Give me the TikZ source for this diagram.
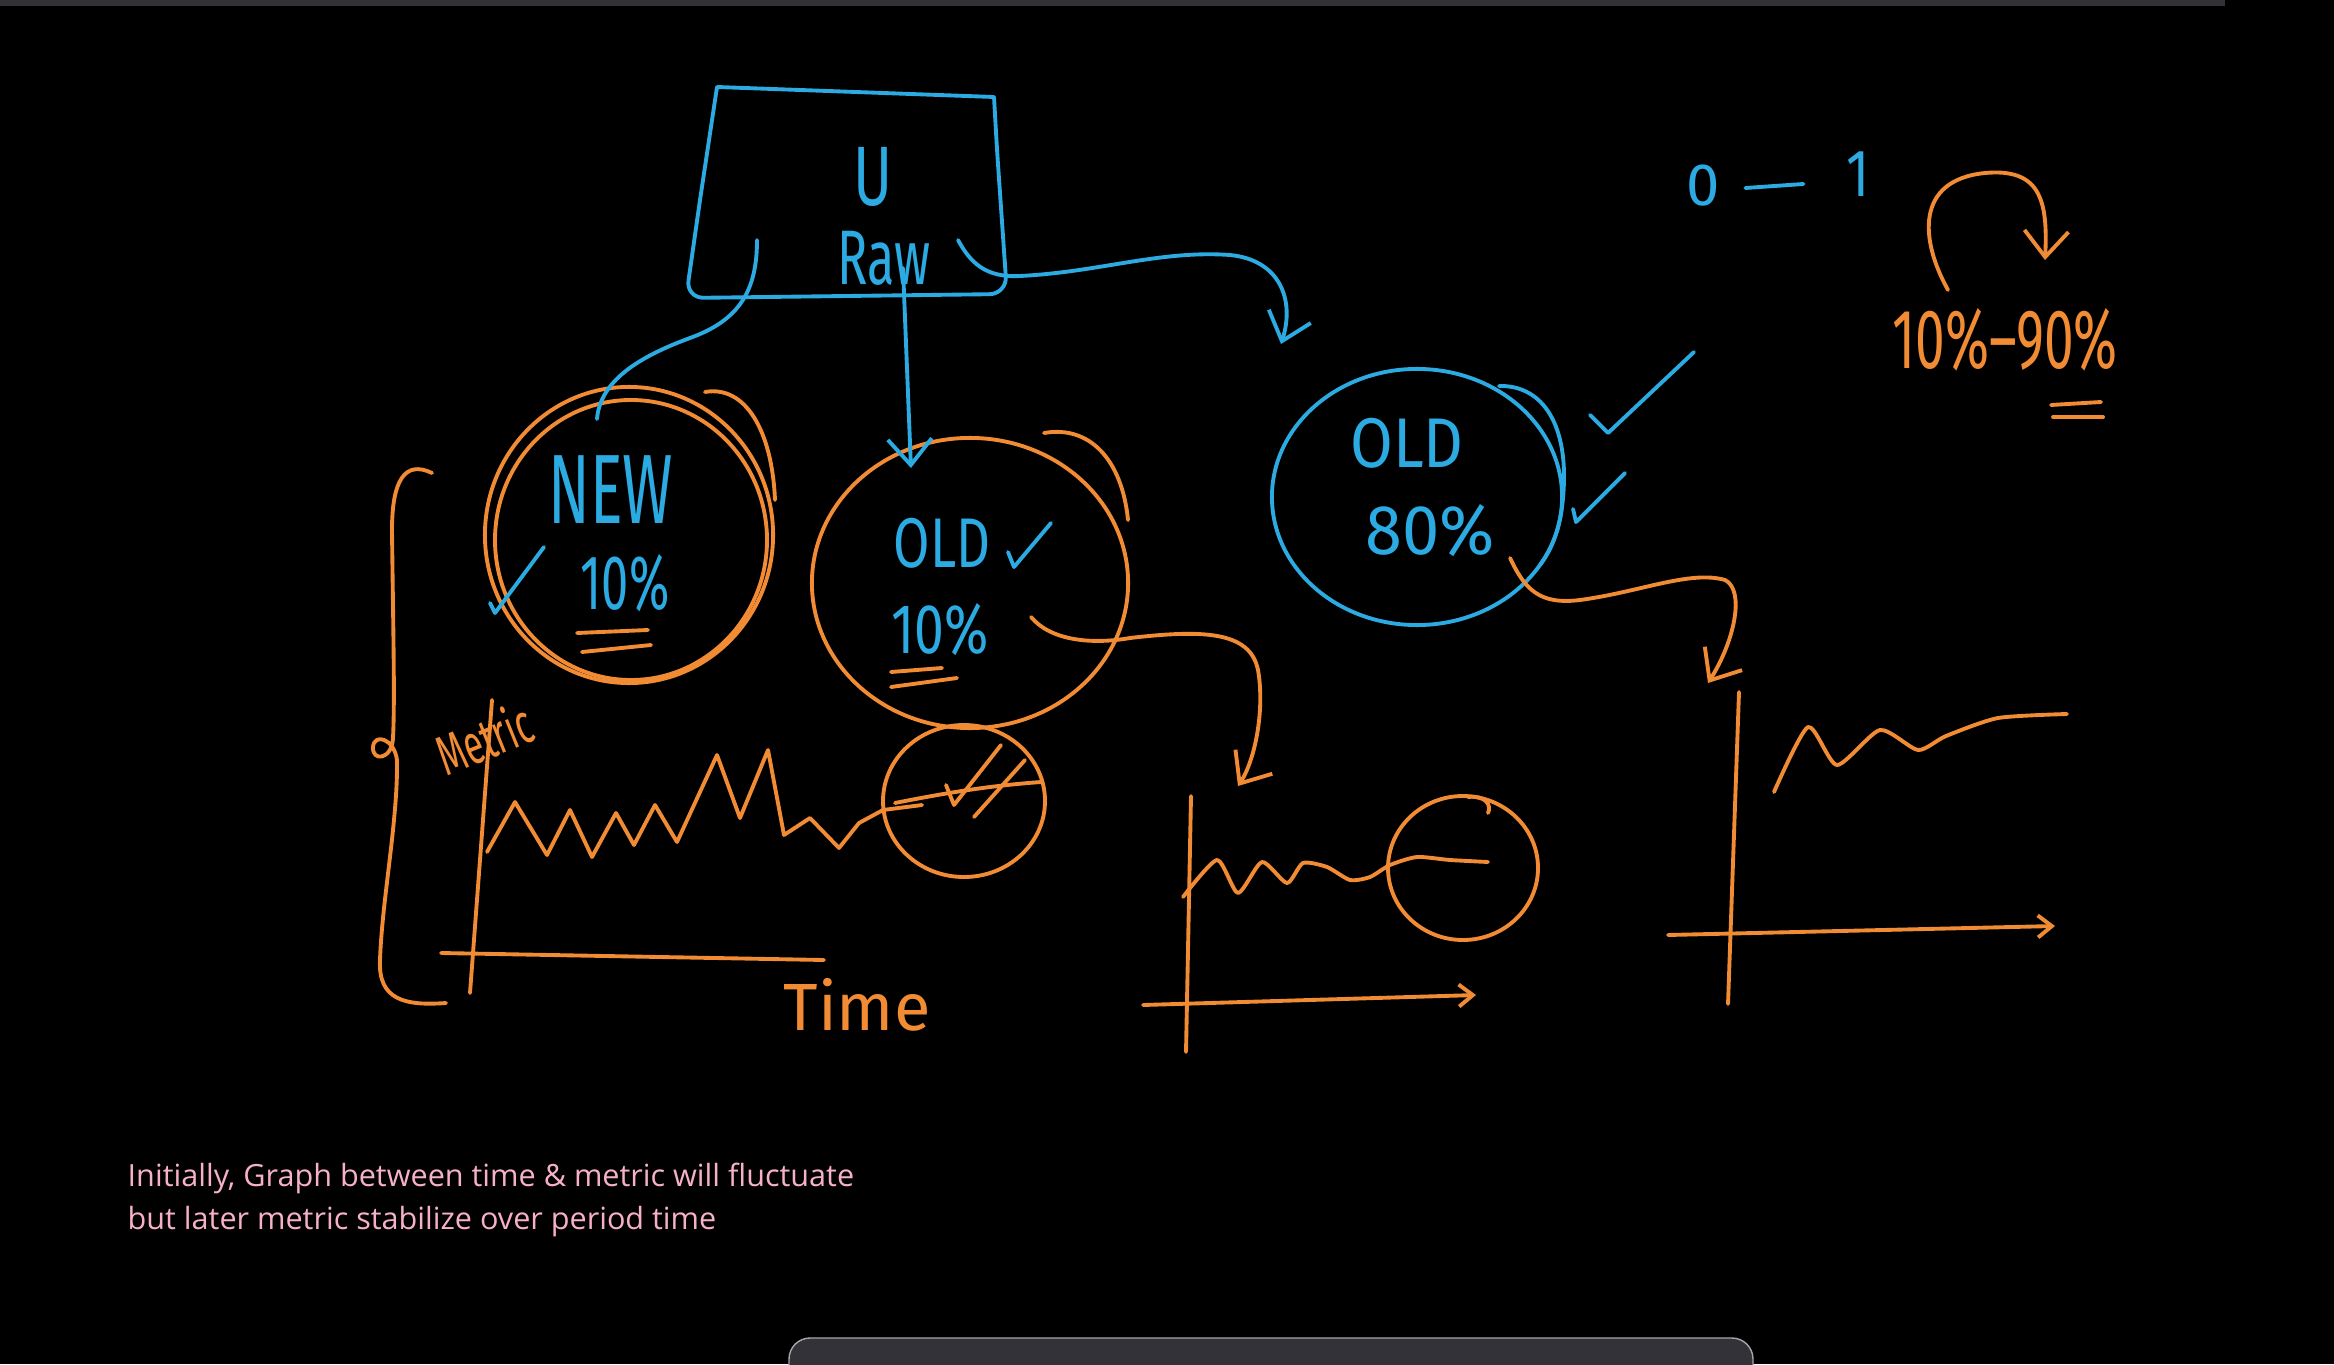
\documentclass[tikz,border=0pt]{standalone}
\usepackage{fontspec}
\usepackage{graphicx}
\setmainfont{Open Sans}
\newfontfamily\handfont{Fira Sans}
\usetikzlibrary{positioning,arrows.meta,shapes.geometric}
\definecolor{inkblue}{RGB}{44,170,226}
\definecolor{inkorange}{RGB}{241,139,52}
\definecolor{notepink}{RGB}{246,176,200}
\definecolor{barbg}{RGB}{50,50,56}
\newcommand{\squeeze}[2]{\scalebox{#1}[1]{#2}}

\begin{document}
\begin{tikzpicture}[x=0.01cm,y=-0.01cm,
pen/.style={line width=1.1pt,line cap=round,line join=round},
bluepen/.style={pen,draw=inkblue},
orangepen/.style={pen,draw=inkorange},
hand/.style={font=\handfont\fontsize{#1}{#1}\selectfont,inner sep=0pt},
bluetext/.style={hand=#1,text=inkblue},
orangetext/.style={hand=#1,text=inkorange},
bubble/.style={ellipse,inner sep=0pt,line width=1.1pt},
arrow/.style={-{Straight Barb[length=2.6mm,width=4.4mm]}},
axisarrow/.style={-{Straight Barb[length=1.4mm,width=2.2mm]}}]
\useasboundingbox (0,0) rectangle (2334,1364);
\fill[black] (0,0) rectangle (2334,1364);
\fill[barbg] (0,0) rectangle (2225,6);
\fill[barbg,rounded corners=6pt] (789,1338) rectangle (1753,1400);
\draw[gray!70,rounded corners=6pt] (789,1400) -- (789,1338) -- (1753,1338) -- (1753,1400);

% raw box
\draw[bluepen] (700,200) [rounded corners=5pt] -- (686,298) -- (1007,294) -- (997,150) [sharp corners] -- (994,97) -- (717,87) -- cycle;
\node[bluetext=24] (u) at (873,177) {\squeeze{0.7}{U}};
\node[bluetext=22] (raw) at (884,258) {\squeeze{0.65}{Raw}};
\coordinate (rawL) at (757,240);
\coordinate (rawS) at (903,268);
\coordinate (rawR) at (958,240);

% bubbles
\node[bubble,draw=inkorange,minimum width=2.88cm,minimum height=2.96cm] (new) at (629,535) {};
\draw[orangepen] (631,540) ellipse [x radius=136,y radius=140];
\draw[orangepen] (705,392) .. controls (745,385) and (772,430) .. (775,500);
\node[bluetext=28] (newname) at (611,490) {\squeeze{0.62}{NEW}};
\node[bluetext=22] (newpct) at (625,583) {\squeeze{0.63}{10\%}};
\draw[orangepen] (577,633) -- (648,630);
\draw[orangepen] (582,652) -- (651,645);
\draw[bluepen] (490,603) -- (495,613) -- (544,547);

\node[bubble,draw=inkorange,minimum width=3.16cm,minimum height=2.9cm] (old) at (970,583) {};
\draw[orangepen] (1044,433) .. controls (1090,425) and (1122,460) .. (1128,520);
\node[bluetext=20] (oldname) at (942,543) {\squeeze{0.75}{OLD}};
\draw[bluepen] (1008,552) -- (1014,567) -- (1051,523);
\node[bluetext=20] (oldpct) at (940,630) {\squeeze{0.76}{10\%}};
\draw[orangepen] (891,672) -- (942,668);
\draw[orangepen] (891,687) -- (957,678);

\node[bubble,draw=inkblue,minimum width=2.9cm,minimum height=2.56cm] (oldb) at (1417,497) {};
\draw[bluepen] (1499,386) .. controls (1540,385) and (1565,420) .. (1564,480) .. controls (1563,520) and (1555,545) .. (1540,565);
\node[bluetext=20] (oldbname) at (1407,443) {\squeeze{0.88}{OLD}};
\node[bluetext=20] (oldbpct) at (1430,531) {\squeeze{0.95}{80\%}};
\draw[bluepen] (1590,415) -- (1608,433) -- (1694,352);
\draw[bluepen] (1573,509) -- (1576,522) -- (1625,473);

% top right
\node[bluetext=17] (zero) at (1703,186) {0};
\node[bluetext=19] (one) at (1858,174) {\squeeze{0.8}{1}};
\draw[bluepen] (zero.east) ++(0.25cm,-0.02cm) -- ++(0.58cm,0.04cm);
\node[orangetext=24] (split) at (2005,340) {\squeeze{0.63}{10\%–90\%}};
\draw[orangepen] (2051,405) -- (2101,402);
\draw[orangepen] (2053,417) -- (2103,417);
\coordinate (loopS) at (1948,290);
\coordinate (loopE) at (2045,260);
\draw[orangepen,arrow] (loopS) .. controls (1920,240) and (1915,180) .. (1985,173) .. controls (2040,168) and (2048,200) .. (loopE);

% connectors
\coordinate (bTip) at (1281,344);
\coordinate (plotBtip) at (1238,786);
\coordinate (plotCtip) at (1708,683);
\draw[bluepen] (rawL) .. controls (757,290) and (740,320) .. (690,338) .. controls (630,360) and (600,385) .. ([xshift=-3.2mm,yshift=-3.4mm]new.north);
\draw[bluepen,arrow] (rawS) -- ([xshift=-5.9mm,yshift=-3.2mm]old.north);
\draw[bluepen,arrow] (rawR) .. controls (970,262) and (985,278) .. (1020,276) .. controls (1100,272) and (1160,250) .. (1230,255) .. controls (1280,260) and (1295,300) .. (bTip);
\draw[orangepen,arrow] ([xshift=6.1mm,yshift=-3.4mm]old.center) .. controls (1050,640) and (1090,645) .. (1130,638) .. controls (1200,630) and (1250,630) .. (1258,670) .. controls (1265,710) and (1255,760) .. (plotBtip);
\draw[orangepen,arrow] ([xshift=9.3mm,yshift=-6.1mm]oldb.center) .. controls (1525,590) and (1540,605) .. (1580,600) .. controls (1640,592) and (1690,570) .. (1725,580) .. controls (1745,590) and (1735,640) .. (plotCtip);

% plot 1
\draw[orangepen] (432,473) .. controls (405,460) and (392,480) .. (392,530) .. controls (393,620) and (395,700) .. (393,738) .. controls (392,760) and (372,762) .. (373,747) .. controls (374,733) and (394,738) .. (397,760) .. controls (398,820) and (382,900) .. (380,960) .. controls (378,1000) and (405,1006) .. (446,1003);
\node[orangetext=16,rotate=22] (metric) at (484,738) {\squeeze{0.62}{Metric}};
\draw[orangepen] (492,700) -- (470,993);
\draw[orangepen] (441,953) -- (824,960);
\node[orangetext=19] (time) at (857,1005) {Time};
\draw[orangepen] (487,852) -- (515,802) -- (547,855) -- (570,810) -- (592,857) -- (616,813) -- (634,845) -- (655,805) -- (677,842) -- (717,755) -- (740,818) -- (768,750) -- (784,835) -- (810,818) -- (839,848) -- (859,823) -- (883,810) -- (922,805);
\draw[orangepen] (895,803) .. controls (960,790) and (1000,785) .. (1041,782);
\draw[orangepen] (964,801) ellipse [x radius=81,y radius=76];
\draw[orangepen] (946,785) -- (954,805) -- (1001,745);
\draw[orangepen] (974,817) -- (1025,760);

% plot 2
\draw[orangepen] (1191,796) -- (1186,1052);
\draw[orangepen,axisarrow] (1143,1005) -- (1476,995);
\draw[orangepen] plot[smooth,tension=0.4] coordinates {(1183,897) (1217,860) (1238,893) (1262,862) (1287,883) (1303,863) (1327,867) (1350,880) (1370,877) (1390,865) (1417,857) (1450,860) (1488,862)};
\draw[orangepen] (1463,868) ellipse [x radius=75,y radius=72];
\draw[orangepen] (1468,797) .. controls (1485,795) and (1492,805) .. (1488,813);

% plot 3
\draw[orangepen] (1739,692) -- (1728,1004);
\draw[orangepen,axisarrow] (1668,935) -- (2055,926);
\draw[orangepen] plot[smooth,tension=0.4] coordinates {(1774,792) (1808,727) (1837,765) (1880,730) (1918,750) (1946,736) (1998,718) (2067,714)};

% note
\node[anchor=west,text=notepink,font=\fontsize{8.7}{12}\selectfont,align=left,inner sep=0pt] (note) at (127,1200) {Initially, Graph between time \& metric will fluctuate\\but later metric stabilize over period time};
\end{tikzpicture}
\end{document}
